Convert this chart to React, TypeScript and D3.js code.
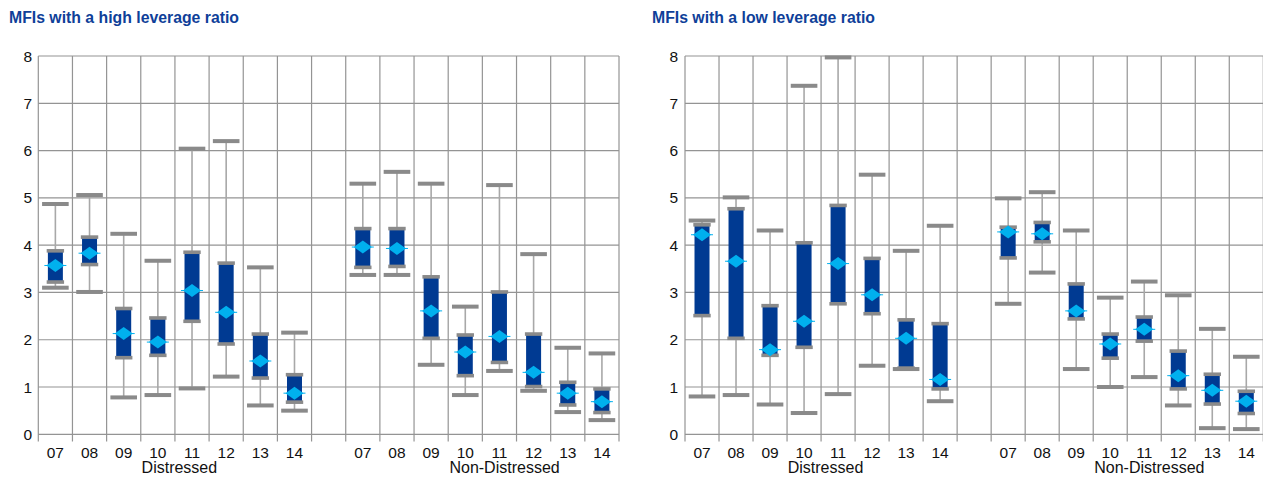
import React from "react";
import * as d3 from "d3";

const years = ["07", "08", "09", "10", "11", "12", "13", "14"];
const groups = ["Distressed", "Non-Distressed"];
const yTicks = [0, 1, 2, 3, 4, 5, 6, 7, 8];
const titles = ["MFIs with a high leverage ratio", "MFIs with a low leverage ratio"];

// High leverage: Distressed (8) then Non-Distressed (8)
const highMin = [3.10, 3.01, 0.78, 0.83, 0.97, 1.22, 0.61, 0.50, 3.37, 3.37, 1.47, 0.83, 1.34, 0.92, 0.47, 0.30];
const highQ1 = [3.22, 3.59, 1.62, 1.67, 2.39, 1.91, 1.19, 0.68, 3.53, 3.55, 2.03, 1.24, 1.52, 1.01, 0.62, 0.46];
const highQ3 = [3.88, 4.17, 2.66, 2.46, 3.85, 3.62, 2.12, 1.26, 4.35, 4.35, 3.33, 2.10, 3.01, 2.12, 1.10, 0.96];
const highMax = [4.87, 5.06, 4.24, 3.67, 6.04, 6.20, 3.53, 2.15, 5.30, 5.55, 5.30, 2.70, 5.27, 3.81, 1.83, 1.71];
const highMean = [3.57, 3.83, 2.13, 1.95, 3.04, 2.58, 1.55, 0.87, 3.96, 3.93, 2.61, 1.74, 2.07, 1.31, 0.87, 0.69];

// Low leverage
const lowMin = [0.80, 0.83, 0.63, 0.45, 0.85, 1.45, 1.38, 0.70, 2.76, 3.42, 1.38, 1.00, 1.21, 0.61, 0.13, 0.11];
const lowQ1 = [2.51, 2.03, 1.67, 1.84, 2.76, 2.55, 1.40, 0.96, 3.73, 4.07, 2.44, 1.61, 1.97, 0.96, 0.64, 0.44];
const lowQ3 = [4.43, 4.77, 2.72, 4.05, 4.84, 3.72, 2.42, 2.34, 4.38, 4.48, 3.18, 2.12, 2.48, 1.76, 1.27, 0.91];
const lowMax = [4.52, 5.01, 4.31, 7.37, 7.97, 5.49, 3.88, 4.41, 4.99, 5.12, 4.31, 2.89, 3.23, 2.94, 2.23, 1.64];
const lowMean = [4.22, 3.66, 1.79, 2.39, 3.61, 2.95, 2.03, 1.16, 4.28, 4.24, 2.61, 1.91, 2.22, 1.24, 0.93, 0.70];

const FONT = "'Liberation Sans', Arial, sans-serif";
const GRID = "#949494";
const CAP = "#8a8a8a";
const BOX = "#003a92";
const MEAN = "#00b0ee";
const TITLE = "#0f3f99";

type Panel = {
  title: string;
  x0: number;
  x1: number;
  titleX: number;
  labelRight: number;
  min: number[];
  q1: number[];
  q3: number[];
  max: number[];
  mean: number[];
};

const panels: Panel[] = [
  { title: titles[0], x0: 38.3, x1: 619, titleX: 9, labelRight: 32, min: highMin, q1: highQ1, q3: highQ3, max: highMax, mean: highMean },
  { title: titles[1], x0: 685, x1: 1263.3, titleX: 652, labelRight: 678, min: lowMin, q1: lowQ1, q3: lowQ3, max: lowMax, mean: lowMean },
];

const slots = d3.range(17).map(String);

function PanelView({ p }: { p: Panel }) {
  const y = d3.scaleLinear().domain([0, 8]).range([434.3, 56]);
  const x = d3.scaleBand<string>().domain(slots).range([p.x0, p.x1]).padding(0);
  const bw = x.bandwidth();
  const idx = (k: number) => (k < 8 ? k : k + 1);
  const cx = (k: number) => (x(String(idx(k))) as number) + bw / 2;
  const items = d3.range(16);
  return (
    <g>
      <text x={p.titleX} y={22.7} fontFamily={FONT} fontWeight="bold" fontSize={15.8} fill={TITLE}>
        {p.title}
      </text>
      {yTicks.map((t) => (
        <g key={"h" + t}>
          <line x1={p.x0} x2={p.x1} y1={y(t)} y2={y(t)} stroke={GRID} strokeWidth={1.2} />
          <text x={p.labelRight} y={y(t) + 5.6} textAnchor="end" fontFamily={FONT} fontSize={15.5} fill="#111">
            {t}
          </text>
        </g>
      ))}
      {d3.range(18).map((i) => {
        const xx = p.x0 + i * bw;
        return <line key={"v" + i} x1={xx} x2={xx} y1={y(8)} y2={441.5} stroke={GRID} strokeWidth={1.2} />;
      })}
      {items.map((k) => {
        const c = cx(k);
        return (
          <g key={"b" + k}>
            <line x1={c} x2={c} y1={y(p.max[k])} y2={y(p.min[k])} stroke="#a8a8a8" strokeWidth={1.6} />
            <rect x={c - 13.3} y={y(p.max[k]) - 2} width={26.6} height={4} fill={CAP} />
            <rect x={c - 13.3} y={y(p.min[k]) - 2} width={26.6} height={4} fill={CAP} />
            <rect x={c - 7.5} y={y(p.q3[k])} width={15} height={y(p.q1[k]) - y(p.q3[k])} fill={BOX} />
            <rect x={c - 8.7} y={y(p.q3[k]) - 1.8} width={17.4} height={3.6} fill={CAP} />
            <rect x={c - 8.7} y={y(p.q1[k]) - 1.8} width={17.4} height={3.6} fill={CAP} />
            <line x1={c - 11} x2={c + 11} y1={y(p.mean[k])} y2={y(p.mean[k])} stroke={MEAN} strokeWidth={1} />
            <path
              d={`M${c - 9},${y(p.mean[k])} L${c},${y(p.mean[k]) - 6.5} L${c + 9},${y(p.mean[k])} L${c},${y(p.mean[k]) + 6.5} Z`}
              fill={MEAN}
            />
          </g>
        );
      })}
      {years.map((yr, i) => (
        <g key={"yl" + i}>
          <text x={cx(i)} y={458} textAnchor="middle" fontFamily={FONT} fontSize={15.5} fill="#111">
            {yr}
          </text>
          <text x={cx(i + 8)} y={458} textAnchor="middle" fontFamily={FONT} fontSize={15.5} fill="#111">
            {yr}
          </text>
        </g>
      ))}
      <text x={p.x0 + 4.13 * bw} y={473} textAnchor="middle" fontFamily={FONT} fontSize={16} fill="#111">
        {groups[0]}
      </text>
      <text x={p.x0 + 13.65 * bw} y={473} textAnchor="middle" fontFamily={FONT} fontSize={16} fill="#111">
        {groups[1]}
      </text>
    </g>
  );
}

export default function App() {
  return (
    <svg width={1263} height={477} style={{ position: "absolute", left: 0, top: 0, background: "#fff" }}>
      <rect x={0} y={0} width={1263} height={477} fill="#fff" />
      {panels.map((p, i) => (
        <PanelView key={i} p={p} />
      ))}
    </svg>
  );
}
